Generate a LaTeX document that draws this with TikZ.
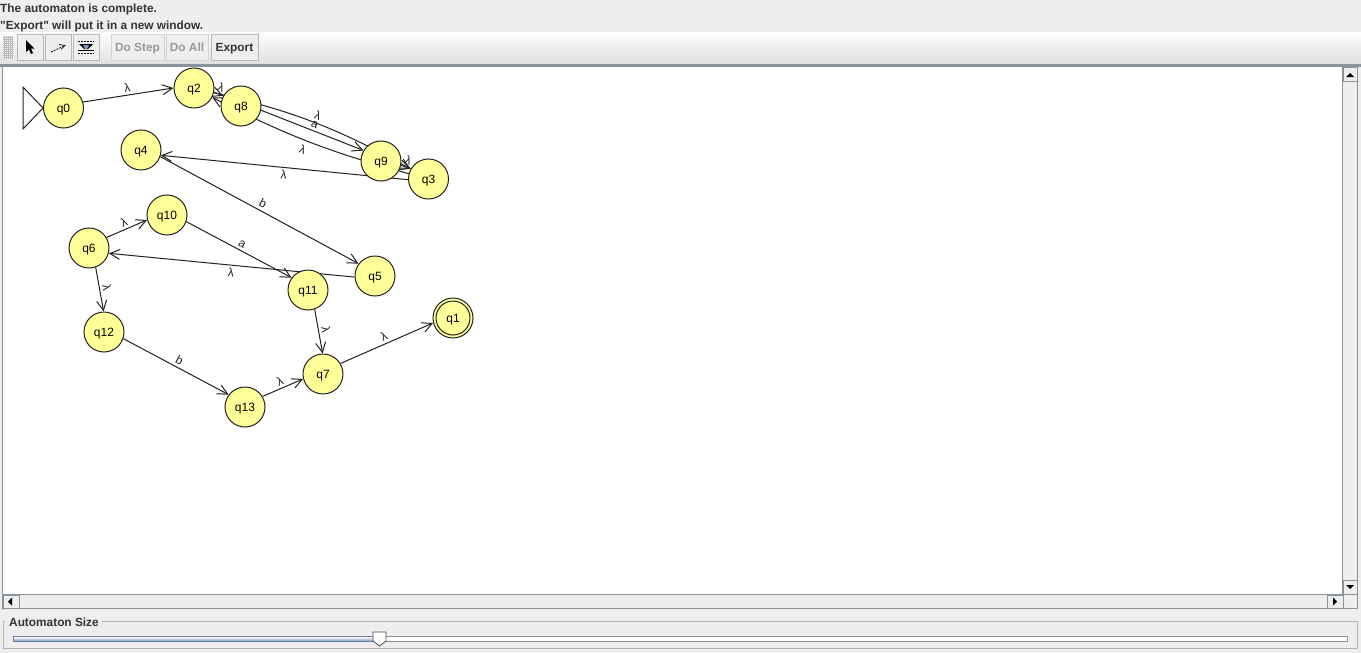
\documentclass[tikz,border=0pt]{standalone}
\usepackage{fontspec}
\setmainfont{Liberation Sans}
\newfontfamily\uifont{Liberation Sans}
\usetikzlibrary{arrows.meta,calc}
\definecolor{panelbg}{HTML}{EEEEEE}
\definecolor{uitext}{HTML}{333333}
\definecolor{uiline}{HTML}{8A939C}
\definecolor{stateyellow}{HTML}{FFFF99}
\definecolor{inkline}{HTML}{222222}
\definecolor{trackblue}{HTML}{7F9CC8}
\definecolor{disabledtext}{HTML}{999999}
\pgfdeclarelayer{uilayer}
\pgfdeclarelayer{edgelayer}
\pgfsetlayers{uilayer,edgelayer,main}
\tikzset{
  x=1pt,y=-1pt,
  state/.style={circle,draw=inkline,fill=stateyellow,line width=1pt,minimum size=40pt,inner sep=0pt,text height=9pt,text depth=1pt,font=\fontsize{12}{14}\selectfont,text=black},
  edge/.style={draw=inkline,line width=1pt,-{Straight Barb[length=10pt,width=10pt,line width=1pt]}},
  elabel/.style={sloped,inner sep=2.5pt,font=\fontsize{12}{13}\selectfont,text=inkline},
  uilabel/.style={anchor=base west,inner sep=0pt,font=\uifont\bfseries\fontsize{11.85}{14}\selectfont,text=uitext},
  toolbtn/.style={draw=uiline!65,fill=panelbg,line width=.8pt,inner sep=0pt,text height=9pt,text depth=1pt,font=\bfseries\fontsize{11.85}{14}\selectfont,text=uitext,minimum height=26pt},
  offbtn/.style={toolbtn,draw=uiline!40,text=disabledtext},
  scrollbtn/.style={draw=uiline,fill=panelbg,line width=.8pt}
}
% straight connector, displaced to the left of its direction of travel
\newcommand\lnk[4]{%
  \path[edge] let \p1=($(#2)-(#1)$),\n1={atan2(\y1,\x1)+8.6},\n2={atan2(\y1,\x1)+171.4} in
    (#1.\n1) -- node[elabel,#3] {#4} (#2.\n2);}
\begin{document}
\begin{tikzpicture}
\useasboundingbox (0,0) rectangle (1361,653);
\begin{pgfonlayer}{uilayer}
% window
\fill[panelbg] (0,0) rectangle (1361,653);
\shade[top color=white!90!panelbg,bottom color=black!12] (0,32) rectangle (1361,64);
\fill[uiline] (0,64) rectangle (1361,67);
\fill[white] (3,67) rectangle (1342,594);
\draw[uiline,line width=1pt] (2.5,67) -- (2.5,610);
\node[uilabel] (msgA) at (0,12.5) {The automaton is complete.};
\node[uilabel] (msgB) at (0,29) {"Export" will put it in a new window.};
% toolbar grip
\fill[black!28] (3,36) rectangle (13,59);
\foreach \yy in {36,38,...,58}{\foreach \xx in {3,5,...,12}{\fill[white!80!panelbg] (\xx,\yy) rectangle +(1,1);}}
% toolbar buttons
\node[toolbtn,minimum width=26pt] (btnA) at (30,47) {};
\node[toolbtn,minimum width=26pt] (btnB) at (58,47) {};
\node[toolbtn,minimum width=26pt] (btnC) at (86,47) {};
\node[offbtn,minimum width=53pt] (btnStep) at (137.5,47) {Do Step};
\node[offbtn,minimum width=42pt] (btnAll) at (187,47) {Do All};
\node[toolbtn,minimum width=47pt] (btnExp) at (234.5,47) {Export};
% icons
\fill[black] (26,40) -- (26,52) -- (29,49.5) -- (31,54) -- (33,53) -- (31,48.5) -- (34.5,48.5) -- cycle;
\draw[black,line width=.7pt,dash pattern=on 2pt off 1pt] (51,52) -- (64,46);
\draw[black,line width=.7pt] (59,44.5) -- (65,45.5) -- (61,49.5);
\draw[black,line width=.7pt,dash pattern=on 2pt off 1pt] (78,41.5) -- (94,41.5) (78,53) -- (94,53);
\fill[black] (79,44) -- (93,44) -- (88,49) -- (84,49) -- cycle;
\fill[trackblue] (83,45) -- (89,45) -- (87,49) -- (85,49) -- cycle;
\draw[black,line width=.8pt] (78,50.5) -- (94,50.5);
% scrollbars
\draw[uiline,line width=1pt] (1342.5,67) -- (1342.5,594.5) -- (3,594.5);
\fill[panelbg] (1343,67) rectangle (1357,594);
\draw[scrollbtn] (1343,67) rectangle (1357,81);
\draw[scrollbtn] (1343,580) rectangle (1357,594);
\draw[uiline,line width=.8pt] (1357,67) -- (1357,608) -- (3,608);
\fill[black] (1346,77) -- (1354,77) -- (1350,73) -- cycle;
\fill[black] (1346,585) -- (1354,585) -- (1350,589) -- cycle;
\draw[scrollbtn] (3,595) rectangle (19,608);
\draw[scrollbtn] (1327,595) rectangle (1343,608);
\fill[black] (12,597.5) -- (12,605.5) -- (8,601.5) -- cycle;
\fill[black] (1333,597.5) -- (1333,605.5) -- (1337,601.5) -- cycle;
% slider panel
\draw[uiline!70,line width=.8pt] (4.5,621.5) -- (3,621.5) -- (3,648.5) -- (1357,648.5) -- (1357,621.5) -- (102,621.5);
\node[uilabel] (sizeLabel) at (9,626) {Automaton Size};
\draw[uiline,line width=.8pt,fill=white] (13.5,636.5) rectangle (1347,641.5);
\shade[top color=white,bottom color=trackblue] (14,637) rectangle (379,641);
\draw[trackblue!80!black,line width=.8pt] (13.5,636.5) rectangle (379,641.5);
\draw[black!70,fill=white,line width=.8pt] (373,632) -- (386,632) -- (386,641) -- (379.5,646) -- (373,641) -- cycle;
\end{pgfonlayer}
% states
\node[state] (q0) at (63.5,108) {q0};
\node[state] (q2) at (194,88) {q2};
\node[state] (q8) at (241,106) {q8};
\node[state] (q9) at (381,161) {q9};
\node[state] (q3) at (428.5,179) {q3};
\node[state] (q4) at (141,150) {q4};
\node[state] (q5) at (375,276) {q5};
\node[state] (q6) at (89,248) {q6};
\node[state] (q10) at (167,215) {q10};
\node[state] (q11) at (308,290) {q11};
\node[state] (q12) at (104,332) {q12};
\node[state] (q13) at (245,407) {q13};
\node[state] (q7) at (323,374) {q7};
\node[state] (q1) at (453,318) {q1};
\coordinate (triA) at (23,87);
\coordinate (triB) at (23,129);
\begin{pgfonlayer}{edgelayer}
\path[edge] (q2) to[bend left=8] node[elabel,above,pos=.5] {λ} (q3);
\path[edge] (q3) to[bend left=6] node[elabel,below,pos=.51,inner sep=5pt] {λ} (q2);
\lnk{q8}{q9}{above}{a}
\lnk{q2}{q8}{above}{λ}
\lnk{q9}{q3}{above}{λ}
\lnk{q3}{q4}{below}{λ}
\lnk{q0}{q2}{above}{λ}
\lnk{q4}{q5}{above}{b}
\lnk{q5}{q6}{below}{λ}
\lnk{q6}{q10}{above}{λ}
\lnk{q10}{q11}{above}{a}
\lnk{q6}{q12}{above}{λ}
\lnk{q12}{q13}{above}{b}
\lnk{q13}{q7}{above}{λ}
\lnk{q11}{q7}{above}{λ}
\lnk{q7}{q1}{above}{λ}
\end{pgfonlayer}
\draw[inkline,line width=1pt] (q1.center) circle (17);
\draw[inkline,line width=1pt] (triA) -- (q0.west) -- (triB) -- cycle;
\end{tikzpicture}
\end{document}
